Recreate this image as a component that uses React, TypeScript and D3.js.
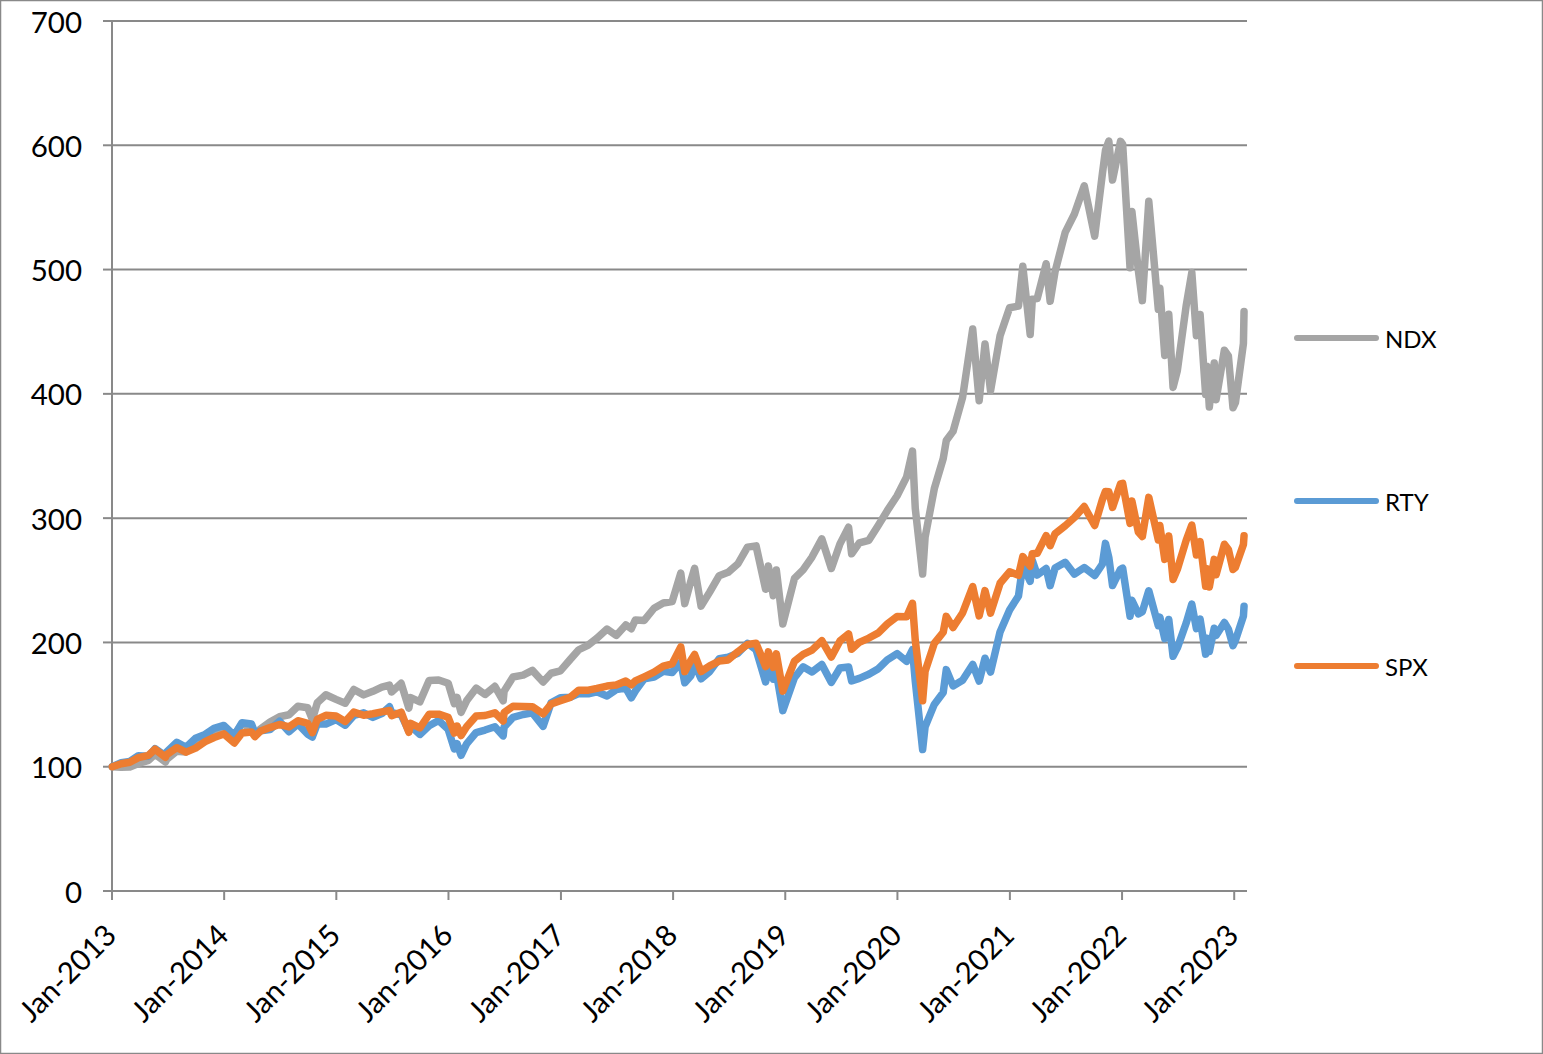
import React from "react";
import * as d3 from "d3";

const dates = [
  "2013-01-02","2013-01-31","2013-02-28","2013-03-28","2013-04-30","2013-05-21","2013-06-24","2013-06-28","2013-07-31","2013-08-30","2013-09-30","2013-10-31","2013-11-29","2013-12-31",
  "2014-02-03","2014-02-28","2014-03-31","2014-04-11","2014-04-30","2014-05-30","2014-06-30","2014-07-31","2014-08-29","2014-09-30","2014-10-15","2014-10-31","2014-11-28","2014-12-31",
  "2015-01-30","2015-02-27","2015-03-31","2015-04-30","2015-05-29","2015-06-23","2015-06-30","2015-07-31","2015-08-25","2015-08-31","2015-09-30","2015-10-30","2015-11-30","2015-12-31",
  "2016-01-20","2016-01-29","2016-02-11","2016-02-29","2016-03-31","2016-04-29","2016-05-31","2016-06-27","2016-06-30","2016-07-29","2016-08-31","2016-09-30","2016-11-04","2016-11-30","2016-12-30",
  "2017-01-31","2017-02-28","2017-03-31","2017-04-28","2017-05-31","2017-06-30","2017-07-31","2017-08-18","2017-08-31","2017-09-29","2017-10-31","2017-11-30","2017-12-29",
  "2018-01-26","2018-02-08","2018-02-28","2018-03-12","2018-04-02","2018-04-30","2018-05-31","2018-06-29","2018-07-31","2018-08-31","2018-09-28","2018-10-29","2018-11-07","2018-11-23","2018-12-03","2018-12-24",
  "2019-01-31","2019-02-28","2019-03-29","2019-04-30","2019-05-31","2019-06-28","2019-07-26","2019-08-05","2019-08-30","2019-09-30","2019-10-31","2019-11-29","2019-12-31",
  "2020-01-31","2020-02-19","2020-02-28","2020-03-23","2020-03-31","2020-04-30","2020-05-29","2020-06-08","2020-06-30","2020-07-31","2020-09-02","2020-09-23","2020-10-12","2020-10-30","2020-11-30","2020-12-31",
  "2021-01-29","2021-02-12","2021-03-08","2021-03-15","2021-03-31","2021-04-29","2021-05-12","2021-05-28","2021-06-30","2021-07-30","2021-08-31","2021-10-04","2021-10-29","2021-11-08","2021-11-19","2021-12-01","2021-12-27",
  "2022-01-03","2022-01-27","2022-02-02","2022-02-23","2022-03-08","2022-03-29","2022-04-29","2022-05-04","2022-05-20","2022-06-02","2022-06-16","2022-06-30","2022-07-29","2022-08-16","2022-08-31","2022-09-12","2022-09-30","2022-10-04","2022-10-12","2022-10-28","2022-11-03","2022-11-30","2022-12-13","2022-12-28",
  "2023-01-05","2023-01-31","2023-02-02"
];

const spx = [
  100,102.4,103.6,107.3,109.2,114.1,107.6,109.8,115.3,111.7,115.0,120.1,123.5,126.4,
  119.1,127.2,128.0,124.2,128.8,131.5,134.0,132.0,137.0,134.9,127.4,138.0,141.4,140.8,
  136.4,143.9,141.4,142.6,144.1,145.2,141.1,143.9,127.7,134.9,131.3,142.2,142.3,139.8,
  127.1,132.7,125.1,132.1,140.8,141.2,143.4,136.8,143.5,148.6,148.5,148.3,142.6,150.4,153.1,
  155.8,161.6,161.6,163.0,164.9,165.7,168.9,165.9,169.0,172.3,176.1,181.0,182.8,
  196.4,176.5,185.6,190.3,176.6,181.1,185.0,185.9,192.6,198.4,199.3,180.6,192.4,180.0,190.8,160.8,
  184.9,190.4,193.8,201.4,188.2,201.2,206.9,194.5,200.1,203.5,207.7,214.8,220.9,
  220.6,231.5,202.0,153.0,176.7,199.2,208.2,221.0,212.0,223.7,244.9,221.3,241.7,223.6,247.6,256.8,
  254.0,269.1,261.3,271.4,271.7,285.9,277.8,287.5,293.9,300.5,309.3,294.1,314.9,321.5,321.2,308.6,327.6,
  328.0,295.8,313.8,288.9,285.2,316.7,282.5,294.0,266.8,285.6,250.7,258.8,282.4,294.4,270.4,281.1,245.2,259.2,244.6,266.8,254.4,279.0,274.8,258.7,
  260.4,278.8,285.8
];

const rty = [
  100,103.3,104.3,108.9,108.5,114.6,108.8,111.9,119.7,115.7,122.9,126.0,130.9,133.2,
  125.2,135.4,134.3,127.2,129.0,129.9,136.6,128.2,134.5,126.1,123.9,134.4,134.3,137.9,
  133.4,141.2,143.4,139.7,142.7,148.2,143.6,141.8,128.5,132.7,126.0,133.0,137.2,130.1,
  114.4,118.5,109.2,118.4,127.5,129.5,132.2,124.8,131.9,139.7,142.0,143.3,132.5,151.4,155.4,
  155.9,158.8,158.7,160.3,156.9,162.0,163.2,155.4,160.9,170.7,172.1,176.8,175.8,
  184.1,167.6,173.2,182.7,170.7,176.5,187.0,188.1,191.3,199.3,194.2,168.2,180.1,170.4,175.5,145.1,
  171.7,180.4,176.3,182.2,167.8,179.4,180.3,169.1,171.1,174.4,178.9,186.0,191.0,
  184.8,194.2,169.0,113.8,132.0,150.1,159.7,178.1,165.0,169.5,182.3,168.9,187.3,176.1,208.4,226.1,
  237.4,262.1,249.1,266.0,254.2,259.5,245.7,259.8,264.5,254.9,260.3,253.8,263.0,279.7,268.3,245.8,258.9,
  259.8,221.1,233.9,222.9,224.7,241.6,213.4,220.4,203.1,218.5,188.9,195.6,215.8,230.8,211.1,218.8,190.6,203.3,192.6,211.4,205.6,216.0,210.7,197.4,
  201.6,221.2,229.1
];

const ndx = [
  100,99.5,99.7,102.6,105.1,110.0,103.8,105.9,112.5,111.9,117.2,123.0,127.0,130.8,
  125.2,134.6,130.9,125.8,130.6,136.0,140.2,141.8,148.6,147.4,138.0,151.4,157.9,154.2,
  151.1,162.2,157.8,160.7,164.1,165.7,160.1,167.1,147.1,155.6,152.2,169.3,169.8,167.2,
  150.7,155.8,143.7,153.0,163.2,158.1,164.7,153.0,160.8,172.2,173.7,177.5,168.2,175.2,177.1,
  186.3,194.1,197.9,203.3,210.8,205.6,214.1,211.0,218.0,217.7,227.5,231.7,232.9,
  255.7,231.2,249.6,259.6,229.2,240.5,253.7,256.4,263.3,276.7,277.7,242.8,261.5,237.6,258.2,214.8,
  251.5,258.4,268.7,283.3,259.5,279.3,292.7,271.3,280.1,282.2,294.3,306.0,318.0,
  333.2,353.9,308.1,255.0,284.5,323.7,347.9,362.4,369.8,397.1,452.2,394.5,440.2,402.4,446.7,469.3,
  470.6,502.7,447.8,476.2,476.7,504.7,474.5,498.3,529.9,544.7,567.4,526.9,577.1,595.9,603.4,572.0,603.2,
  600.8,501.4,546.8,499.4,475.0,554.9,468.0,484.9,430.9,464.0,405.2,418.8,471.4,497.6,446.8,463.9,399.5,422.2,389.4,424.8,395.3,435.1,430.5,388.8,
  392.9,440.6,466.2
];

const seriesNames = ["NDX", "RTY", "SPX"];
const seriesColors = ["#A5A5A5", "#5B9BD5", "#ED7D31"];
const yTicks = [0, 100, 200, 300, 400, 500, 600, 700];
const xTickYears = [2013, 2014, 2015, 2016, 2017, 2018, 2019, 2020, 2021, 2022, 2023];

const W = 1543;
const H = 1054;
const FONT = "Lato, 'Noto Sans', sans-serif";

export default function App() {
  const parse = d3.timeParse("%Y-%m-%d");
  const parsed = dates.map((d) => parse(d) as Date);
  const x = d3
    .scaleTime()
    .domain([new Date(2013, 0, 1), new Date(2023, 1, 10)])
    .range([112, 1246.5]);
  const y = d3.scaleLinear().domain([0, 700]).range([891, 21]);
  const fmt = d3.timeFormat("%b-%Y");

  const seriesData = [ndx, rty, spx];
  const line = d3
    .line<number>()
    .x((_, i) => x(parsed[i]))
    .y((v) => y(v));

  const grid = "#898989";
  const legendY = [338, 501, 666];

  return (
    <svg
      width={W}
      height={H}
      style={{ position: "absolute", left: 0, top: 0, background: "#fff" }}
      fontFamily={FONT}
    >
      <rect x={0.5} y={0.5} width={W - 1} height={H - 1} fill="#fff" stroke={grid} strokeWidth={1.5} />
      {yTicks.map((t) => (
        <g key={t}>
          {t > 0 && (
            <line x1={112} x2={1247} y1={y(t)} y2={y(t)} stroke={grid} strokeWidth={2} />
          )}
          <line x1={103} x2={112} y1={y(t)} y2={y(t)} stroke={grid} strokeWidth={2} />
          <text x={82} y={y(t)} textAnchor="end" dominantBaseline="central" fontSize={29.5} fill="#000">
            {t}
          </text>
        </g>
      ))}
      <line x1={112} x2={112} y1={21} y2={891} stroke={grid} strokeWidth={2} />
      <line x1={103} x2={1247} y1={891} y2={891} stroke={grid} strokeWidth={2} />
      {xTickYears.map((yr) => {
        const d = new Date(yr, 0, 1);
        const px = x(d);
        return (
          <g key={yr}>
            <line x1={px} x2={px} y1={891} y2={900} stroke={grid} strokeWidth={2} />
            <text
              transform={`translate(${px - 2},${929}) rotate(-45)`}
              textAnchor="end"
              dominantBaseline="central"
              fontSize={29.5}
              fill="#000"
            >
              {fmt(d)}
            </text>
          </g>
        );
      })}
      {seriesData.map((vals, si) => (
        <path
          key={seriesNames[si]}
          d={line(vals) || ""}
          fill="none"
          stroke={seriesColors[si]}
          strokeWidth={7.5}
          strokeLinejoin="round"
          strokeLinecap="round"
        />
      ))}
      {seriesNames.map((n, si) => (
        <g key={n}>
          <line
            x1={1297}
            x2={1376}
            y1={legendY[si]}
            y2={legendY[si]}
            stroke={seriesColors[si]}
            strokeWidth={6}
            strokeLinecap="round"
          />
          <text x={1385} y={legendY[si]} dominantBaseline="central" fontSize={24} fill="#000">
            {n}
          </text>
        </g>
      ))}
    </svg>
  );
}
